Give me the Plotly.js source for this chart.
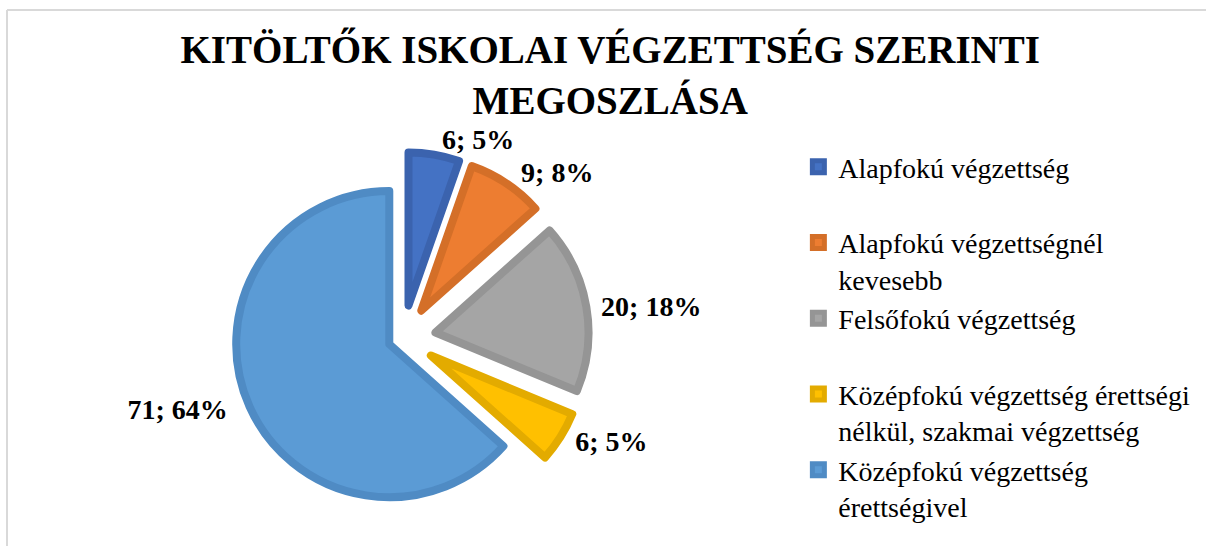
<!DOCTYPE html>
<html>
<head>
<meta charset="utf-8">
<script src="https://cdn.plot.ly/plotly-3.0.1.min.js"></script>
<style>
  html, body { margin: 0; padding: 0; background: #ffffff; }
  #chart { width: 1206px; height: 546px; }
</style>
</head>
<body>
<div id="chart"></div>
<script>
// ---- Data ----
const categories = [
  'Alapfokú végzettség',
  'Alapfokú végzettségnél<br>kevesebb',
  'Felsőfokú végzettség',
  'Középfokú végzettség érettségi<br>nélkül, szakmai végzettség',
  'Középfokú végzettség<br>érettségivel'
];
const counts = [6, 9, 20, 6, 71];
const percentLabels = ['5%', '8%', '18%', '5%', '64%'];
const chartTitle = 'KITÖLTŐK ISKOLAI VÉGZETTSÉG SZERINTI<br>MEGOSZLÁSA';

// ---- Styling ----
const fillColors = ['#4472C4', '#ED7D31', '#A5A5A5', '#FFC000', '#5B9BD5'];
const lineColors = ['#3B63AE', '#D46F28', '#959595', '#E3AB00', '#4F8BC4'];
const serif = 'Liberation Serif, Times New Roman, Times, serif';
const NB = '\u00A0';

// pad single-line legend entries so all entries have two lines
const legendLabels = categories.map(c => c.indexOf('<br>') >= 0 ? c : c + '<br>' + NB);

const trace = {
  type: 'pie',
  labels: legendLabels,
  values: counts,
  text: percentLabels,
  texttemplate: [
    '%{value}; %{text}',
    NB + '%{value}; %{text}',
    NB + '%{value}; %{text}',
    NB + '%{value}; %{text}',
    '%{value}; %{text}' + NB + NB
  ],
  textposition: 'outside',
  textfont: { family: serif, size: 28, color: '#000000', weight: 'bold' },
  outsidetextfont: { family: serif, size: 28, color: '#000000', weight: 'bold' },
  sort: false,
  direction: 'clockwise',
  rotation: 0,
  pull: [0.215, 0.215, 0.215, 0.215, 0.098],
  marker: { colors: fillColors, line: { color: lineColors, width: 8 } },
  domain: { x: [0.1799, 0.4884], y: [0.0403, 0.7216] },
  hoverinfo: 'none'
};

const layout = {
  width: 1206,
  height: 546,
  margin: { l: 0, r: 0, t: 0, b: 0 },
  paper_bgcolor: '#ffffff',
  plot_bgcolor: '#ffffff',
  title: {
    text: chartTitle,
    font: { family: serif, size: 39, color: '#000000', weight: 'bold' },
    x: 0.506, xanchor: 'center', xref: 'container',
    y: 0.884, yanchor: 'middle', yref: 'container'
  },
  showlegend: true,
  legend: {
    x: 0.662, xanchor: 'left',
    y: 0.74, yanchor: 'top',
    valign: 'top',
    font: { family: serif, size: 28, color: '#000000' },
    bgcolor: 'rgba(0,0,0,0)'
  },
  shapes: [
    { type: 'line', xref: 'paper', yref: 'paper', x0: 0.0058, x1: 1, y0: 0.9817, y1: 0.9817,
      line: { color: '#d9d9d9', width: 2 } },
    { type: 'line', xref: 'paper', yref: 'paper', x0: 0.0058, x1: 0.0058, y0: 0, y1: 0.9817,
      line: { color: '#d9d9d9', width: 2 } }
  ]
};

Plotly.newPlot('chart', [trace], layout, { displayModeBar: false, staticPlot: true });
</script>
</body>
</html>
